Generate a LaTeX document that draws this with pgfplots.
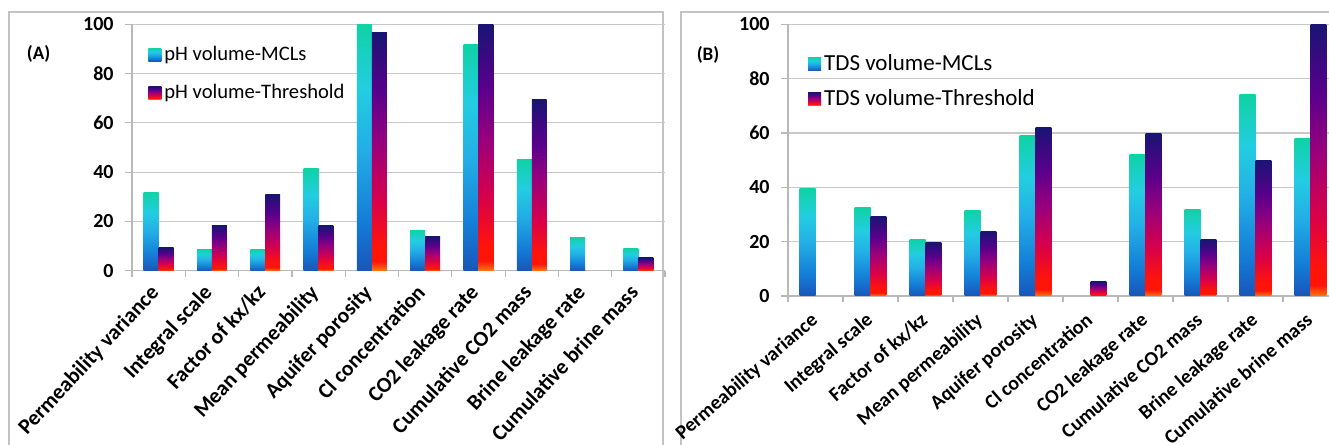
\documentclass[border=0pt]{standalone}
\usepackage{fontspec}
\setmainfont{Carlito}
\usepackage{pgfplots}
\pgfplotsset{compat=1.18}
\definecolor{mA}{RGB}{25,85,185}
\definecolor{mB}{RGB}{20,125,215}
\definecolor{mC}{RGB}{35,175,230}
\definecolor{mD}{RGB}{35,205,225}
\definecolor{mE}{RGB}{15,210,165}
\definecolor{tA}{RGB}{255,120,10}
\definecolor{tB}{RGB}{255,20,10}
\definecolor{tC}{RGB}{215,0,75}
\definecolor{tD}{RGB}{150,0,125}
\definecolor{tE}{RGB}{90,0,140}
\definecolor{tF}{RGB}{25,20,115}
\definecolor{gridc}{RGB}{200,200,200}
\definecolor{axisc}{RGB}{185,185,185}
\definecolor{framec}{RGB}{195,195,195}
\pgfdeclareverticalshading{mcl}{100bp}{color(0bp)=(mA); color(25bp)=(mA); color(35bp)=(mB); color(50bp)=(mC); color(62bp)=(mD); color(75bp)=(mE); color(100bp)=(mE)}
\pgfdeclareverticalshading{thr}{100bp}{color(0bp)=(tA); color(25bp)=(tA); color(27bp)=(tB); color(30bp)=(tB); color(40bp)=(tC); color(52bp)=(tD); color(62bp)=(tE); color(75bp)=(tF); color(100bp)=(tF)}
\pgfplotsset{
  panel/.style={
    scale only axis, anchor=south west,
    xmin=-0.5, xmax=9.5, ymin=0, ymax=100,
    enlargelimits=false,
    axis x line*=bottom, axis y line*=left,
    axis line style={-, draw=axisc, line width=0.6bp},
    ymajorgrids, grid style={draw=gridc, line width=0.6bp},
    ytick={0,20,...,100},
    xtick={0,...,9},
    xticklabels={Permeability variance, Integral scale, Factor of kx/kz, Mean permeability, Aquifer porosity, Cl concentration, CO2 leakage rate, Cumulative CO2 mass, Brine leakage rate, Cumulative brine mass},
    minor xtick={-0.5,0.5,...,9.5},
    tick align=outside,
    major tick length=3.5bp, minor tick length=3bp,
    major x tick style={draw=none},
    tick style={draw=axisc, line width=0.6bp},
    /pgf/number format/assume math mode=true,
    yticklabel style={font=\bfseries\fontsize{10bp}{12bp}\selectfont, inner sep=1.5bp, xshift=-4bp},
    legend cell align=left,
    legend style={draw=none, fill=none, anchor=north west, inner sep=0pt, nodes={inner xsep=1.5bp}},
  },
  mclbar/.style={draw=none, shading=mcl, legend image code/.code={\shade[shading=mcl] (0bp,-3.25bp) rectangle (6.5bp,3.25bp);}},
  thrbar/.style={draw=none, shading=thr, legend image code/.code={\shade[shading=thr] (0bp,-3.25bp) rectangle (6.5bp,3.25bp);}},
}
% one bar per plot, so that each bar gets its own gradient
\newcommand\mbar[3]{\addplot[ybar, mclbar, bar width=#3, bar shift=-#3/2, forget plot] coordinates {(#1,#2)};}
\newcommand\tbar[3]{\addplot[ybar, thrbar, bar width=#3, bar shift=#3/2, forget plot] coordinates {(#1,#2)};}
\begin{document}
\begin{tikzpicture}
\useasboundingbox (0,0) rectangle (664.5bp,222.5bp);
\draw[framec, line width=0.9bp] (4.5bp,-10bp) -- (4.5bp,216.5bp) -- (331.5bp,216.5bp) -- (331.5bp,-10bp);
\draw[framec, line width=0.9bp] (340.5bp,-10bp) -- (340.5bp,216.5bp) -- (700bp,216.5bp);
\node[font=\bfseries\fontsize{9.5bp}{11bp}\selectfont] at (19.25bp,195.5bp) {(A)};
\node[font=\bfseries\fontsize{9.5bp}{11bp}\selectfont] at (354bp,195bp) {(B)};

\begin{axis}[panel, at={(66bp,87.15bp)}, width=266.5bp, height=123.2bp,
  xticklabel style={font=\bfseries\fontsize{10.8bp}{13bp}\selectfont, xshift=-5bp, yshift=-2.5bp, rotate=47, anchor=north east, inner sep=0pt},
  legend style={at={(0.03,0.93)}, row sep=6.5bp, font=\fontsize{10.3bp}{12bp}\selectfont}]
\addlegendimage{mclbar}
\addlegendentry{pH volume-MCLs}
\addlegendimage{thrbar}
\addlegendentry{pH volume-Threshold}
% pH volume-MCLs
\mbar{0}{31.8}{0.28} \mbar{1}{8.7}{0.28} \mbar{2}{8.7}{0.28} \mbar{3}{41.5}{0.28} \mbar{4}{100}{0.28}
\mbar{5}{16.5}{0.28} \mbar{6}{92}{0.28} \mbar{7}{45}{0.28} \mbar{8}{13.5}{0.28} \mbar{9}{9}{0.28}
% pH volume-Threshold
\tbar{0}{9.3}{0.28} \tbar{1}{18.4}{0.28} \tbar{2}{31}{0.28} \tbar{3}{18.4}{0.28} \tbar{4}{96.5}{0.28}
\tbar{5}{13.8}{0.28} \tbar{6}{100}{0.28} \tbar{7}{69.3}{0.28} \tbar{9}{5.2}{0.28}
\end{axis}

\begin{axis}[panel, at={(394bp,74.5bp)}, width=275bp, height=135.85bp,
  xticklabel style={font=\bfseries\fontsize{10bp}{12bp}\selectfont, xshift=-3bp, yshift=-4bp, rotate=41, anchor=north east, inner sep=0pt},
  legend style={at={(0.036,0.905)}, row sep=4bp, font=\fontsize{11.5bp}{13bp}\selectfont}]
\addlegendimage{mclbar}
\addlegendentry{TDS volume-MCLs}
\addlegendimage{thrbar}
\addlegendentry{TDS volume-Threshold}
% TDS volume-MCLs
\mbar{0}{39.5}{0.29} \mbar{1}{32.6}{0.29} \mbar{2}{20.9}{0.29} \mbar{3}{31.4}{0.29} \mbar{4}{58.9}{0.29}
\mbar{6}{52.1}{0.29} \mbar{7}{31.9}{0.29} \mbar{8}{74}{0.29} \mbar{9}{58}{0.29}
% TDS volume-Threshold
\tbar{1}{29.4}{0.29} \tbar{2}{19.6}{0.29} \tbar{3}{23.6}{0.29} \tbar{4}{62.1}{0.29} \tbar{5}{5.3}{0.29}
\tbar{6}{59.8}{0.29} \tbar{7}{20.7}{0.29} \tbar{8}{50}{0.29} \tbar{9}{100}{0.29}
\end{axis}
\end{tikzpicture}
\end{document}
